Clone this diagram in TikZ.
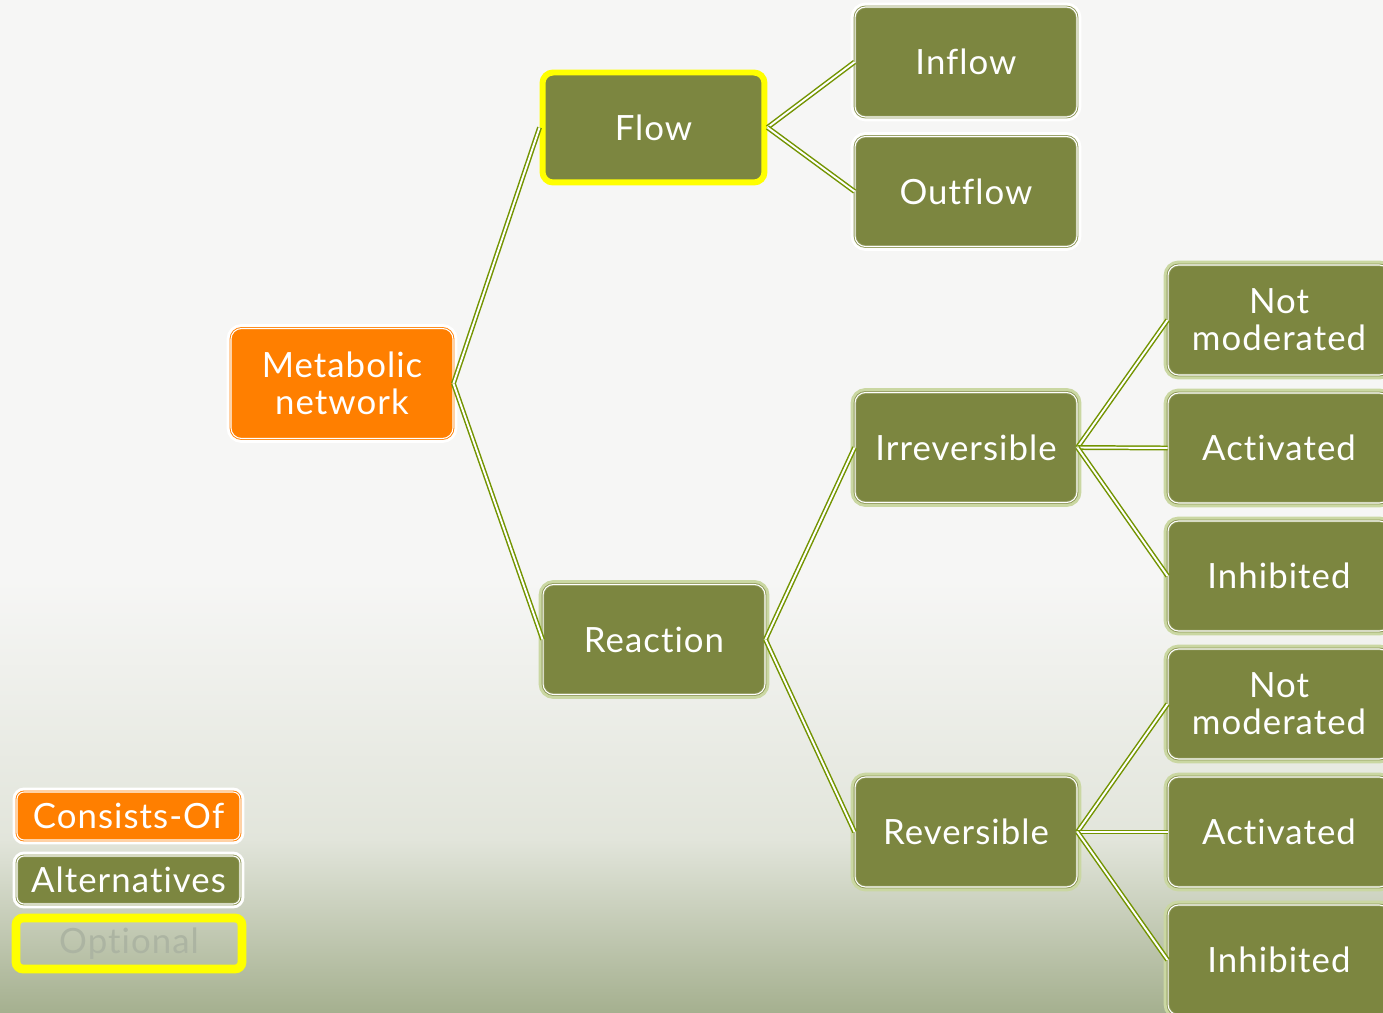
\documentclass[tikz,border=0pt]{standalone}
\usepackage{fontspec}
\setmainfont{Lato}[Ligatures=NoCommon, LetterSpace=3]
\definecolor{bgtop}{HTML}{F6F6F5}
\definecolor{bgmid}{HTML}{E2E5DB}
\definecolor{bgbot}{HTML}{A5B08F}
\definecolor{altgreen}{HTML}{7C8640}
\definecolor{altedge}{HTML}{8E9858}
\definecolor{halogreen}{HTML}{CAD7A2}
\definecolor{conorange}{HTML}{FF7F00}
\definecolor{linkgreen}{HTML}{739400}
\definecolor{optyellow}{HTML}{FFFF00}
\definecolor{optgray}{HTML}{ACB4A2}
\tikzset{
	cell/.style={rectangle, rounded corners=6pt, text=white, align=center, inner sep=0pt,
		font=\fontsize{19.8}{21}\selectfont, minimum width=4.44cm, minimum height=2.2cm},
	alt/.style={cell, fill=altgreen, draw=altedge, double=white, double distance=0.6pt,
		line width=0.5pt, preaction={draw=#1, line width=5pt}},
	alt/.default=white,
	con/.style={cell, fill=conorange, draw=conorange, double=white, double distance=0.6pt,
		line width=0.5pt, preaction={draw=white, line width=5pt}},
	opt/.style={cell, fill=altgreen, draw=optyellow, line width=3.4pt},
	key/.style={minimum width=4.46cm, minimum height=0.96cm, rounded corners=4pt},
	link/.style={draw=linkgreen, double=white, double distance=1.1pt, line width=0.85pt},
}
\begin{document}
\begin{tikzpicture}[x=0.02cm, y=-0.02cm]
		\useasboundingbox (0,0) rectangle (1383,1013);
		\clip (0,0) rectangle (1383,1013);
		\fill[bgtop] (0,0) rectangle (1383,1013);
		\shade[top color=bgtop, bottom color=bgmid] (0,580) rectangle (1383,840);
		\shade[top color=bgmid, bottom color=bgbot] (0,839) rectangle (1383,1013);

		\node[con] (metab) at (342,383.5) {Metabolic\\network};
		\node[opt] (flow) at (653.5,127.5) {Flow};
		\node[alt] (inflow) at (966,62) {Inflow};
		\node[alt] (outflow) at (966,191.5) {Outflow};
		\node[alt=halogreen] (reaction) at (654,639.5) {Reaction};
		\node[alt=halogreen] (irrev) at (966,447.5) {Irreversible};
		\node[alt=halogreen] (rev) at (966,832) {Reversible};
		\node[alt=halogreen] (irrevnot) at (1279,320) {Not\\moderated};
		\node[alt=halogreen] (irrevact) at (1279,448) {Activated};
		\node[alt=halogreen] (irrevinh) at (1279,576) {Inhibited};
		\node[alt=halogreen] (revnot) at (1279,704) {Not\\moderated};
		\node[alt=halogreen] (revact) at (1279,832) {Activated};
		\node[alt=halogreen] (revinh) at (1279,960) {Inhibited};

		\draw[link] (metab.east) -- (flow.west);
		\draw[link] (metab.east) -- (reaction.west);
		\draw[link] (flow.east) -- (inflow.west);
		\draw[link] (flow.east) -- (outflow.west);
		\draw[link] (reaction.east) -- (irrev.west);
		\draw[link] (reaction.east) -- (rev.west);
		\foreach \k in {not,act,inh} {
			\draw[link] (irrev.east) -- (irrev\k.west);
			\draw[link] (rev.east) -- (rev\k.west);
		}

		\node[con, key] (conkey) at (128.5,816) {Consists-Of};
		\node[alt, key] (altkey) at (128.5,880) {Alternatives};
		\node[cell, key, draw=optyellow, line width=5pt, text=optgray, minimum width=4.52cm, minimum height=1.02cm] (optkey) at (129,943.5) {Optional};
	\end{tikzpicture}
\end{document}
